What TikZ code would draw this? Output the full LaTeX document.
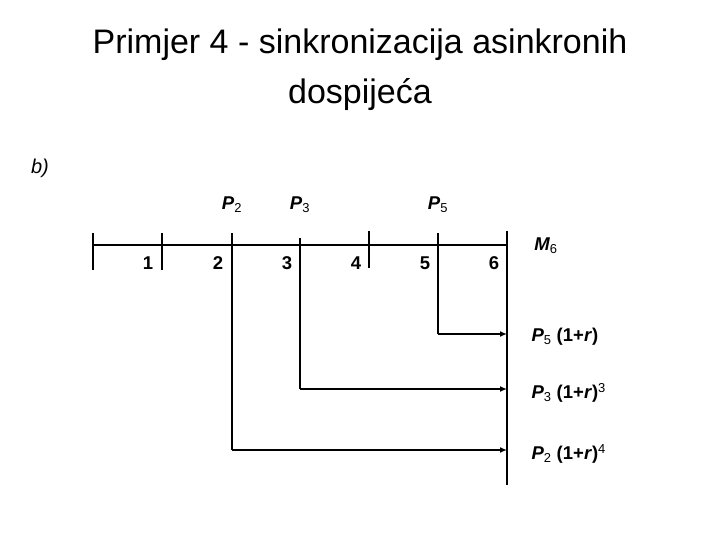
\documentclass[tikz,border=0pt]{standalone}
\usepackage{fontspec}
\setmainfont{Liberation Sans}
\usetikzlibrary{arrows.meta}
\begin{document}
\begin{tikzpicture}[x=1pt,y=-1pt,
  ln/.style={line width=2.6pt},
  thn/.style={line width=1.8pt},
  arr/.style={line width=2.6pt,-{Latex[length=7pt,width=6pt]}},
  lab/.style={font=\fontsize{18.5}{20}\selectfont\bfseries},
  pl/.style={font=\fontsize{18.5}{20}\selectfont\bfseries\itshape}]
\useasboundingbox (0,0) rectangle (720,540);
\node (t) at (360,70) [align=center,font=\fontsize{34}{50}\selectfont] {Primjer 4 - sinkronizacija asinkronih\\dospijeća};
\node (b) at (40,168) [font=\fontsize{20}{22}\selectfont\itshape] {b)};
\coordinate (s) at (93,245); \coordinate (e) at (507,245);
\draw[ln] (s) -- (e);
\draw[ln] (93,233) -- (93,270);
\draw[ln] (162,233) -- (162,270);
\draw[ln] (232,233) -- (232,450) coordinate (c2);
\draw[thn] (300,238) -- (300,389) coordinate (c3);
\draw[ln] (369,231) -- (369,268);
\draw[ln] (438,233) -- (438,334) coordinate (c5);
\draw[ln] (507,231) -- (507,485);
\coordinate (a5) at (507,334); \coordinate (a3) at (507,389); \coordinate (a2) at (507,450);
\draw[arr] (c5) -- (a5);
\draw[arr] (c3) -- (a3);
\draw[arr] (c2) -- (a2);
\foreach \n/\x in {1/148,2/218,3/287,4/356,5/425,6/494}{\node[lab] (n\n) at (\x,263) {\n};}
\node[pl] (p2) at (232,205) {P\textsubscript{\upshape\mdseries 2}};
\node[pl] (p3) at (300,205) {P\textsubscript{\upshape\mdseries 3}};
\node[pl] (p5) at (438,205) {P\textsubscript{\upshape\mdseries 5}};
\node[pl] (m6) at (546,246) {M\textsubscript{\upshape\mdseries 6}};
\node[lab,anchor=west] (l5) at (528,337) {\textit{P}\textsubscript{\mdseries 5} (1+\textit{r})};
\node[lab,anchor=west] (l3) at (528,393) {\textit{P}\textsubscript{\mdseries 3} (1+\textit{r})\textsuperscript{\mdseries 3}};
\node[lab,anchor=west] (l2) at (528,454) {\textit{P}\textsubscript{\mdseries 2} (1+\textit{r})\textsuperscript{\mdseries 4}};
\end{tikzpicture}
\end{document}
